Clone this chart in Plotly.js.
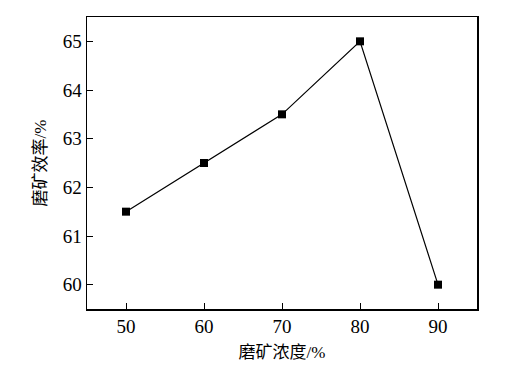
<!DOCTYPE html>
<html><head><meta charset="utf-8">
<script src="https://cdn.plot.ly/plotly-3.0.1.min.js"></script>
<style>html,body{margin:0;padding:0;background:#fff}</style>
</head><body>
<div id="chart" style="width:518px;height:372px"></div>
<script>
const concentration = [50, 60, 70, 80, 90];
const efficiency = [61.5, 62.5, 63.5, 65, 60];
const xTicks = [50, 60, 70, 80, 90];
const yTicks = [60, 61, 62, 63, 64, 65];
const xTitle = '磨矿浓度/%';
const yTitle = '磨矿效率/%';
const fontFam = '"Liberation Serif", "Noto Sans CJK SC", serif';

Plotly.newPlot('chart', [{
  x: concentration, y: efficiency, type: 'scatter', mode: 'lines+markers',
  line: {color: '#000', width: 1.2},
  marker: {symbol: 'square', size: 8, color: '#000'}
}], {
  width: 518, height: 372,
  margin: {l: 87, r: 41, t: 17, b: 63},
  paper_bgcolor: '#fff', plot_bgcolor: '#fff',
  showlegend: false,
  font: {family: fontFam, size: 16, color: '#000'},
  xaxis: {
    range: [45, 95], tickvals: xTicks, ticktext: xTicks.map(String),
    ticks: 'inside', ticklen: 6, tickwidth: 1, tickcolor: '#000',
    showline: true, linecolor: '#000', linewidth: 1.5, mirror: true,
    showgrid: false, zeroline: false,
    tickfont: {family: fontFam, size: 19},
    title: {text: xTitle, font: {family: fontFam, size: 17}, standoff: 10}
  },
  yaxis: {
    range: [59.5, 65.5], tickvals: yTicks, ticktext: yTicks.map(String),
    ticks: 'inside', ticklen: 6, tickwidth: 1, tickcolor: '#000',
    showline: true, linecolor: '#000', linewidth: 1.5, mirror: true,
    showgrid: false, zeroline: false,
    tickfont: {family: fontFam, size: 19},
    title: {text: yTitle, font: {family: fontFam, size: 17}, standoff: 12}
  }
}, {displayModeBar: false, staticPlot: true});
</script>
</body></html>
